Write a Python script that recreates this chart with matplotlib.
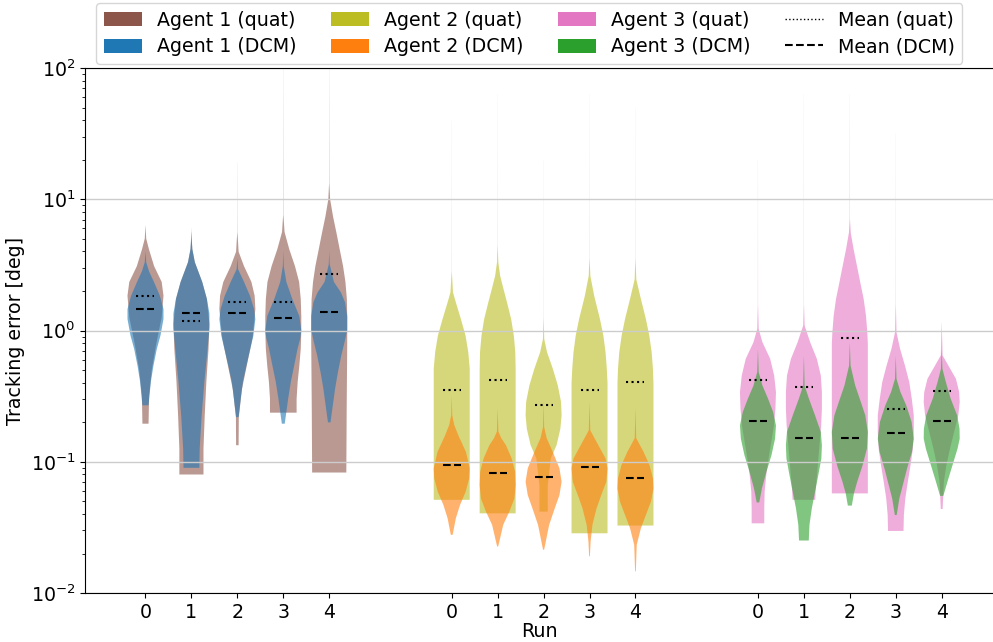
import numpy as np
import matplotlib.pyplot as plt
from matplotlib.patches import Patch
from matplotlib.lines import Line2D

# Tracking error per agent and run, quaternion vs. DCM attitude representation.
# Each violin profile: (log10 of error in deg, relative width) knots, bottom -> top.
runs = [0, 1, 2, 3, 4]
agents = ["Agent 1", "Agent 2", "Agent 3"]

a1_quat = [
    ([-0.71, -0.5, -0.3, -0.1, 0.1, 0.265, 0.37, 0.49, 0.62, 0.70, 0.80],
     [0.17, 0.2, 0.35, 0.6, 0.9, 1.0, 0.9, 0.48, 0.19, 0.04, 0.002]),
    ([-1.097, -0.90, -0.647, -0.39, -0.14, 0.05, 0.24, 0.37, 0.52, 0.62, 0.70, 0.78],
     [0.67, 0.67, 0.74, 0.83, 0.95, 1.0, 0.86, 0.6, 0.19, 0.05, 0.01, 0.002]),
    ([-0.874, -0.66, -0.45, -0.25, -0.05, 0.163, 0.265, 0.37, 0.49, 0.6, 0.75, 1.28],
     [0.07, 0.08, 0.25, 0.55, 0.85, 1.0, 0.96, 0.78, 0.37, 0.07, 0.006, 0.002]),
    ([-0.626, -0.52, -0.39, -0.27, -0.14, -0.01, 0.11, 0.24, 0.37, 0.49, 0.62, 0.75, 0.88, 2.0],
     [0.74, 0.74, 0.8, 0.89, 0.97, 1.0, 1.0, 0.97, 0.88, 0.65, 0.33, 0.07, 0.008, 0.002]),
    ([-1.082, -0.6, -0.1, 0.1, 0.24, 0.37, 0.49, 0.62, 0.745, 0.87, 1.0, 1.12, 2.0],
     [0.95, 0.97, 1.0, 1.0, 0.98, 0.9, 0.77, 0.58, 0.4, 0.21, 0.05, 0.008, 0.002]),
]
a1_dcm = [
    ([-0.57, -0.39, -0.27, -0.14, -0.04, 0.087, 0.163, 0.265, 0.37, 0.45, 0.52, 0.6],
     [0.17, 0.3, 0.44, 0.63, 0.83, 1.0, 1.0, 0.8, 0.47, 0.2, 0.04, 0.002]),
    ([-1.046, -0.90, -0.647, -0.39, -0.14, 0.02, 0.13, 0.24, 0.37, 0.52, 0.62, 0.75],
     [0.44, 0.46, 0.57, 0.72, 0.9, 1.0, 1.0, 0.86, 0.6, 0.19, 0.05, 0.002]),
    ([-0.66, -0.52, -0.39, -0.27, -0.14, -0.04, 0.087, 0.163, 0.265, 0.37, 0.467, 0.55],
     [0.07, 0.19, 0.31, 0.5, 0.72, 0.89, 1.0, 0.93, 0.7, 0.37, 0.04, 0.002]),
    ([-0.71, -0.65, -0.52, -0.39, -0.27, -0.14, -0.06, 0.0, 0.11, 0.24, 0.37, 0.49, 0.6],
     [0.08, 0.14, 0.27, 0.42, 0.6, 0.79, 0.94, 1.0, 0.89, 0.5, 0.17, 0.025, 0.002]),
    ([-0.70, -0.57, -0.44, -0.32, -0.19, -0.09, 0.004, 0.11, 0.215, 0.29, 0.37, 0.505, 0.6],
     [0.07, 0.2, 0.33, 0.48, 0.67, 0.85, 1.0, 1.0, 0.88, 0.65, 0.26, 0.025, 0.002]),
]
a2_quat = [
    ([-1.29, -0.35, -0.29, -0.165, -0.04, 0.087, 0.214, 0.29, 0.45, 1.6],
     [1.0, 1.0, 1.0, 0.92, 0.77, 0.51, 0.23, 0.07, 0.006, 0.002]),
    ([-1.393, -0.3, -0.165, -0.04, 0.087, 0.214, 0.34, 0.416, 0.52, 0.65, 1.8],
     [1.0, 1.0, 0.98, 0.9, 0.75, 0.52, 0.28, 0.14, 0.035, 0.006, 0.002]),
    ([-1.38, -1.18, -0.975, -0.874, -0.75, -0.647, -0.545, -0.419, -0.29, -0.165, -0.065, 0.1, 1.3],
     [0.23, 0.23, 0.4, 0.72, 0.93, 1.0, 0.97, 0.79, 0.51, 0.19, 0.035, 0.005, 0.002]),
    ([-1.545, -0.4, -0.29, -0.165, -0.04, 0.087, 0.264, 0.416, 0.55, 1.8],
     [1.0, 1.0, 0.96, 0.89, 0.77, 0.58, 0.26, 0.045, 0.006, 0.002]),
    ([-1.486, -0.4, -0.29, -0.165, -0.04, 0.087, 0.264, 0.39, 0.55, 1.7],
     [1.0, 1.0, 0.97, 0.9, 0.77, 0.58, 0.26, 0.045, 0.006, 0.002]),
]
a2_dcm = [
    ([-1.557, -1.43, -1.33, -1.23, -1.127, -1.05, -0.925, -0.8, -0.72, -0.647, -0.5],
     [0.05, 0.23, 0.46, 0.77, 0.97, 1.0, 0.79, 0.37, 0.14, 0.03, 0.002]),
    ([-1.645, -1.48, -1.38, -1.28, -1.178, -1.076, -0.975, -0.874, -0.82, -0.77, -0.6],
     [0.03, 0.31, 0.65, 0.93, 1.0, 0.97, 0.78, 0.46, 0.2, 0.04, 0.002]),
    ([-1.67, -1.48, -1.355, -1.254, -1.152, -1.05, -0.925, -0.82, -0.735, -0.55],
     [0.03, 0.31, 0.62, 0.88, 1.0, 0.88, 0.51, 0.17, 0.03, 0.002]),
    ([-1.72, -1.608, -1.48, -1.355, -1.254, -1.152, -1.05, -0.975, -0.874, -0.76, -0.55],
     [0.02, 0.06, 0.16, 0.39, 0.65, 0.93, 1.0, 0.89, 0.49, 0.04, 0.002]),
    ([-1.835, -1.633, -1.507, -1.405, -1.304, -1.203, -1.127, -1.026, -0.925, -0.82, -0.6],
     [0.02, 0.07, 0.3, 0.58, 0.86, 1.0, 0.97, 0.78, 0.45, 0.04, 0.002]),
]
a3_quat = [
    ([-1.469, -1.355, -1.228, -1.102, -0.975, -0.85, -0.723, -0.596, -0.469, -0.343, -0.216, -0.09, 0.011, 0.2, 1.3],
     [0.35, 0.35, 0.37, 0.46, 0.59, 0.74, 0.89, 0.97, 1.0, 0.9, 0.68, 0.25, 0.04, 0.006, 0.002]),
    ([-1.29, -1.228, -0.9, -0.723, -0.596, -0.469, -0.343, -0.216, -0.09, 0.037, 0.2, 1.8],
     [0.63, 0.65, 0.85, 0.96, 1.0, 1.0, 0.94, 0.72, 0.35, 0.04, 0.006, 0.002]),
    ([-1.241, -0.1, -0.014, 0.11, 0.239, 0.366, 0.49, 0.619, 0.745, 0.85, 1.8],
     [1.0, 1.0, 0.97, 0.9, 0.77, 0.58, 0.4, 0.21, 0.05, 0.008, 0.002]),
    ([-1.527, -1.406, -1.279, -1.152, -1.026, -0.9, -0.773, -0.647, -0.52, -0.393, -0.267, -0.14, -0.014, 0.2, 1.5],
     [0.43, 0.45, 0.53, 0.67, 0.82, 0.95, 1.0, 1.0, 0.89, 0.75, 0.51, 0.24, 0.04, 0.006, 0.002]),
    ([-1.36, -1.152, -1.026, -0.9, -0.773, -0.647, -0.545, -0.469, -0.368, -0.267, -0.19, 0.06],
     [0.05, 0.12, 0.26, 0.46, 0.69, 0.92, 1.0, 0.97, 0.79, 0.37, 0.05, 0.002]),
]
a3_dcm = [
    ([-1.31, -1.203, -1.076, -0.95, -0.824, -0.723, -0.62, -0.52, -0.42, -0.317, -0.15],
     [0.07, 0.22, 0.47, 0.75, 0.95, 1.0, 0.84, 0.56, 0.25, 0.04, 0.002]),
    ([-1.60, -1.48, -1.355, -1.228, -1.102, -0.975, -0.874, -0.773, -0.647, -0.52, -0.42, -0.2],
     [0.27, 0.31, 0.44, 0.62, 0.8, 0.97, 1.0, 0.94, 0.62, 0.28, 0.04, 0.002]),
    ([-1.334, -1.24, -1.152, -1.026, -0.9, -0.773, -0.647, -0.52, -0.42, -0.267, -0.1],
     [0.11, 0.23, 0.41, 0.71, 0.95, 1.0, 0.86, 0.55, 0.3, 0.04, 0.002]),
    ([-1.406, -1.279, -1.178, -1.05, -0.925, -0.824, -0.697, -0.57, -0.469, -0.368, -0.2],
     [0.05, 0.2, 0.39, 0.63, 0.9, 1.0, 0.88, 0.58, 0.26, 0.04, 0.002]),
    ([-1.26, -1.152, -1.026, -0.9, -0.824, -0.748, -0.647, -0.52, -0.393, -0.292, -0.15],
     [0.09, 0.32, 0.6, 0.88, 1.0, 0.99, 0.86, 0.5, 0.23, 0.04, 0.002]),
]

# mean tracking error [deg]
a1_quat_mean = [1.82, 1.18, 1.66, 1.66, 2.69]
a1_dcm_mean = [1.455, 1.36, 1.37, 1.24, 1.39]
a2_quat_mean = [0.353, 0.416, 0.272, 0.353, 0.404]
a2_dcm_mean = [0.0953, 0.0824, 0.0768, 0.0916, 0.0746]
a3_quat_mean = [0.416, 0.371, 0.883, 0.254, 0.344]
a3_dcm_mean = [0.206, 0.152, 0.153, 0.165, 0.203]

quat_colors = ["tab:brown", "tab:olive", "tab:pink"]
dcm_colors = ["tab:blue", "tab:orange", "tab:green"]

run_step = 0.3
agent_step = 2.0
violin_width = 0.235
fs = 13.7


def draw_violin(ax, profile, mean, pos, color, ls):
    lv = np.array(profile[0])
    w = np.array(profile[1])
    grid = np.linspace(lv[0], lv[-1], 500)
    stats = dict(coords=10 ** grid, vals=np.interp(grid, lv, w), mean=mean,
                 median=mean, min=10 ** lv[0], max=10 ** lv[-1])
    parts = ax.violin([stats], positions=[pos], widths=violin_width,
                      showmeans=True, showextrema=False, showmedians=False)
    for body in parts["bodies"]:
        body.set_facecolor(color)
        body.set_alpha(0.6)
        body.set_linewidth(0)
    parts["cmeans"].set_color("black")
    parts["cmeans"].set_linestyle(ls)
    parts["cmeans"].set_linewidth(1.5)


fig = plt.figure(figsize=(9.93, 6.42), dpi=100)
ax = fig.add_axes([0.0856, 0.0763, 0.9144, 0.8178])

quat_all = [a1_quat, a2_quat, a3_quat]
dcm_all = [a1_dcm, a2_dcm, a3_dcm]
quat_means = [a1_quat_mean, a2_quat_mean, a3_quat_mean]
dcm_means = [a1_dcm_mean, a2_dcm_mean, a3_dcm_mean]

tick_pos = []
tick_lab = []
for a in range(len(agents)):
    for r in runs:
        pos = a * agent_step + r * run_step
        draw_violin(ax, quat_all[a][r], quat_means[a][r], pos, quat_colors[a], ":")
        draw_violin(ax, dcm_all[a][r], dcm_means[a][r], pos, dcm_colors[a], "--")
        tick_pos.append(pos)
        tick_lab.append(str(r))

ax.set_yscale("log")
ax.set_ylim(1e-2, 1e2)
ax.set_xlim(-0.395, 5.535)
ax.set_xticks(tick_pos)
ax.set_xticklabels(tick_lab)
ax.tick_params(labelsize=fs)
ax.set_xlabel("Run", fontsize=fs, labelpad=0)
ax.set_ylabel("Tracking error [deg]", fontsize=fs)
ax.grid(axis="y", which="major", color="#cccccc", linewidth=1.0)
ax.spines["right"].set_visible(False)

handles = []
labels = []
for a in range(len(agents)):
    handles.append(Patch(facecolor=quat_colors[a]))
    labels.append(agents[a] + " (quat)")
    handles.append(Patch(facecolor=dcm_colors[a]))
    labels.append(agents[a] + " (DCM)")
handles.append(Line2D([], [], color="black", linestyle=":", linewidth=1.0))
labels.append("Mean (quat)")
handles.append(Line2D([], [], color="black", linestyle="--", linewidth=1.5))
labels.append("Mean (DCM)")

fig.legend(handles, labels, ncol=4, loc="upper center",
           bbox_to_anchor=(0.533, 0.998), fontsize=fs, borderaxespad=0.1,
           handleheight=0.8, labelspacing=0.4, columnspacing=1.8)

fig.savefig("out.png", dpi=100)
